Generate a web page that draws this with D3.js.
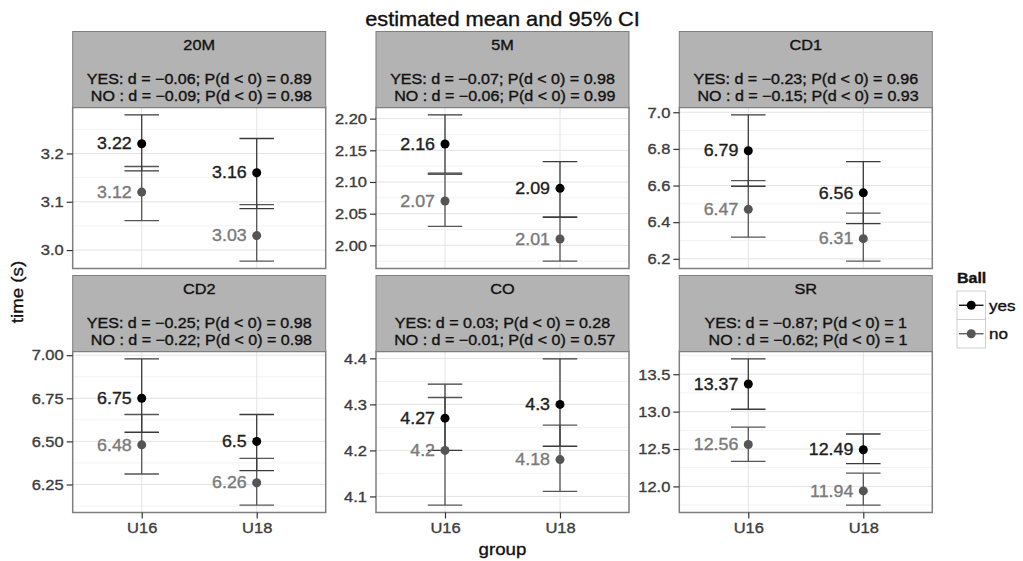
<!DOCTYPE html>
<html>
<head>
<meta charset="utf-8">
<script src="https://cdn.jsdelivr.net/npm/d3@7"></script>
<style>
  body { margin: 0; background: #fff; }
  svg { display: block; font-family: "Liberation Sans", Arial, sans-serif; }
  svg text { stroke-width: 0.35px; }
</style>
</head>
<body>
<svg id="chart" width="1023" height="561"></svg>
<script>
const events = ["20M", "5M", "CD1", "CD2", "CO", "SR"];
const groups = ["U16", "U18"];
const balls = ["yes", "no"];

// means per event, [U16, U18]
const yesMean = [[3.22, 3.16], [2.16, 2.09], [6.79, 6.56], [6.75, 6.5], [4.27, 4.3], [13.37, 12.49]];
const noMean = [[3.12, 3.03], [2.07, 2.01], [6.47, 6.31], [6.48, 6.26], [4.2, 4.18], [12.56, 11.94]];

// 95% CI ends
const yesLo = [[3.164, 3.086], [2.114, 2.044], [6.596, 6.392], [6.553, 6.33], [4.2, 4.209], [13.032, 12.304]];
const yesHi = [[3.28, 3.231], [2.206, 2.132], [6.986, 6.731], [6.979, 6.656], [4.344, 4.399], [13.706, 12.701]];
const noLo = [[3.061, 2.977], [2.03, 1.975], [6.318, 6.187], [6.311, 6.13], [4.081, 4.111], [12.336, 11.749]];
const noHi = [[3.173, 3.094], [2.112, 2.045], [6.627, 6.449], [6.656, 6.401], [4.315, 4.255], [12.794, 12.177]];

// strip statistics
const yesD = [-0.06, -0.07, -0.23, -0.25, 0.03, -0.87];
const yesP = [0.89, 0.98, 0.96, 0.98, 0.28, 1];
const noD = [-0.09, -0.06, -0.15, -0.22, -0.01, -0.62];
const noP = [0.98, 0.99, 0.93, 0.98, 0.57, 1];

// y tick labels per panel
const yTicks = [
  [3.0, 3.1, 3.2],
  [2.0, 2.05, 2.1, 2.15, 2.2],
  [6.2, 6.4, 6.6, 6.8, 7.0],
  [6.25, 6.5, 6.75, 7.0],
  [4.1, 4.2, 4.3, 4.4],
  [12.0, 12.5, 13.0, 13.5]
];
const yDigits = [1, 2, 1, 2, 1, 1];

const S = 1.1; // text in the source is a little wider than it is tall
const colLeft = [72.7, 376, 679.3];
const rowTop = [31.5, 275.5];
const panelW = 253;
const stripH = 76;
const plotH = 161;

const svg = d3.select("#chart");

function label(g, x, y, str, size, anchor, fill, weight) {
  return g.append("text")
    .attr("transform", `translate(${x},${y}) scale(${S},1)`)
    .attr("text-anchor", anchor)
    .attr("dy", "0.35em")
    .attr("font-size", size)
    .attr("font-weight", weight || "normal")
    .attr("fill", fill)
    .attr("stroke", fill)
    .style("white-space", "pre")
    .text(str);
}

function fmtD(v) {
  return (v < 0 ? "\u2212" : "") + Math.abs(v).toFixed(2);
}

// title
label(svg, 502.5, 19, "estimated mean and 95% CI", 19.8, "middle", "#111");

events.forEach((ev, i) => {
  const col = i % 3;
  const row = Math.floor(i / 3);
  const left = colLeft[col];
  const top = rowTop[row];
  const g = svg.append("g").attr("transform", `translate(${left},${top + stripH})`);

  // strip
  const strip = svg.append("g").attr("transform", `translate(${left},${top})`);
  strip.append("rect")
    .attr("width", panelW).attr("height", stripH)
    .attr("fill", "#b3b3b3").attr("stroke", "#7f7f7f").attr("stroke-width", 1);
  label(strip, panelW / 2, 13.5, ev, 14.8, "middle", "#111");
  label(strip, panelW / 2, 47.5, `YES: d = ${fmtD(yesD[i])}; P(d < 0) = ${yesP[i]}`, 14.6, "middle", "#111");
  label(strip, panelW / 2, 64, ` NO : d = ${fmtD(noD[i])}; P(d < 0) = ${noP[i]}`, 14.6, "middle", "#111");

  // scales
  const lo = d3.min([...yesLo[i], ...noLo[i]]);
  const hi = d3.max([...yesHi[i], ...noHi[i]]);
  const pad = (hi - lo) * 0.05;
  const y = d3.scaleLinear().domain([lo - pad, hi + pad]).range([plotH, 0]);
  const x = d3.scalePoint().domain(groups).range([0, panelW]).padding(0.6);

  // background + grid
  g.append("rect").attr("width", panelW).attr("height", plotH).attr("fill", "#fff");
  const ticks = yTicks[i];
  const step = ticks[1] - ticks[0];
  const minor = d3.range(ticks[0] - step / 2, ticks[ticks.length - 1] + step, step)
    .filter(v => v > y.domain()[0] && v < y.domain()[1]);
  g.selectAll(".minor").data(minor).enter().append("line")
    .attr("x1", 0).attr("x2", panelW)
    .attr("y1", d => y(d)).attr("y2", d => y(d))
    .attr("stroke", "#f2f2f2").attr("stroke-width", 1);
  g.selectAll(".major").data(ticks).enter().append("line")
    .attr("x1", 0).attr("x2", panelW)
    .attr("y1", d => y(d)).attr("y2", d => y(d))
    .attr("stroke", "#e3e3e3").attr("stroke-width", 1);
  g.selectAll(".vgrid").data(groups).enter().append("line")
    .attr("x1", d => x(d)).attr("x2", d => x(d))
    .attr("y1", 0).attr("y2", plotH)
    .attr("stroke", "#e3e3e3").attr("stroke-width", 1);

  // error bars, points and value labels
  const series = [
    { ball: "no", mean: noMean[i], lo: noLo[i], hi: noHi[i], bar: "#555", dot: "#555", txt: "#7a7a7a" },
    { ball: "yes", mean: yesMean[i], lo: yesLo[i], hi: yesHi[i], bar: "#3a3a3a", dot: "#000", txt: "#1e1e1e" }
  ];
  const capW = x.step() * 0.15;
  series.forEach(s => {
    groups.forEach((grp, j) => {
      const cx = x(grp);
      const eb = g.append("g").attr("stroke", s.bar).attr("stroke-width", 1.3);
      eb.append("line").attr("x1", cx).attr("x2", cx).attr("y1", y(s.lo[j])).attr("y2", y(s.hi[j]));
      eb.append("line").attr("x1", cx - capW).attr("x2", cx + capW).attr("y1", y(s.lo[j])).attr("y2", y(s.lo[j]));
      eb.append("line").attr("x1", cx - capW).attr("x2", cx + capW).attr("y1", y(s.hi[j])).attr("y2", y(s.hi[j]));
    });
  });
  series.forEach(s => {
    groups.forEach((grp, j) => {
      const cx = x(grp);
      g.append("circle").attr("cx", cx).attr("cy", y(s.mean[j])).attr("r", 4.5).attr("fill", s.dot);
      label(g, cx - 10, y(s.mean[j]), String(+s.mean[j].toFixed(2)), 16.2, "end", s.txt);
    });
  });

  // border
  g.append("rect").attr("width", panelW).attr("height", plotH)
    .attr("fill", "none").attr("stroke", "#7f7f7f").attr("stroke-width", 1.5);

  // y axis
  const ya = g.append("g").call(
    d3.axisLeft(y).tickValues(ticks).tickSize(6).tickPadding(3).tickFormat(d3.format(`.${yDigits[i]}f`))
  );
  ya.select(".domain").remove();
  ya.selectAll("line").attr("stroke", "#333").attr("stroke-width", 1.2);
  ya.selectAll("text").each(function () {
    const t = d3.select(this);
    t.attr("x", +t.attr("x") / S).attr("transform", `scale(${S},1)`);
  }).attr("font-size", 15).attr("font-family", null).attr("fill", "#3d3d3d").attr("stroke", "#3d3d3d");

  // x axis on the bottom row
  if (row === 1) {
    const xa = g.append("g").attr("transform", `translate(0,${plotH})`).call(
      d3.axisBottom(x).tickSize(6).tickPadding(4)
    );
    xa.select(".domain").remove();
    xa.selectAll("line").attr("stroke", "#333").attr("stroke-width", 1.2);
    xa.selectAll("text").each(function () {
      const t = d3.select(this);
      t.attr("x", 0).attr("transform", `translate(0,${+t.attr("y")}) scale(${S},1)`).attr("y", 0);
    }).attr("font-size", 15).attr("font-family", null).attr("fill", "#3d3d3d").attr("stroke", "#3d3d3d");
  }
});

// axis titles
label(svg, 502.5, 549, "group", 17, "middle", "#111");
svg.append("text")
  .attr("transform", `translate(17,292) rotate(-90) scale(${S},1)`)
  .attr("text-anchor", "middle")
  .attr("dy", "0.35em")
  .attr("font-size", 17)
  .attr("fill", "#111")
  .attr("stroke", "#111")
  .text("time (s)");

// legend
const legend = svg.append("g").attr("transform", "translate(957,270)");
label(legend, 0, 8, "Ball", 14.5, "start", "#111", "bold");
const keyColors = { yes: "#000", no: "#555" };
balls.forEach((b, k) => {
  const ky = 21 + k * 28.5;
  legend.append("rect").attr("x", 0).attr("y", ky).attr("width", 28.5).attr("height", 28.5)
    .attr("fill", "#fff").attr("stroke", "#cfcfcf").attr("stroke-width", 1);
  legend.append("line").attr("x1", 2).attr("x2", 26.5).attr("y1", ky + 14.25).attr("y2", ky + 14.25)
    .attr("stroke", keyColors[b]).attr("stroke-width", 1.3);
  legend.append("circle").attr("cx", 14.25).attr("cy", ky + 14.25).attr("r", 4.5).attr("fill", keyColors[b]);
  label(legend, 32, ky + 14.25, b, 15.5, "start", "#111");
});
</script>
</body>
</html>
